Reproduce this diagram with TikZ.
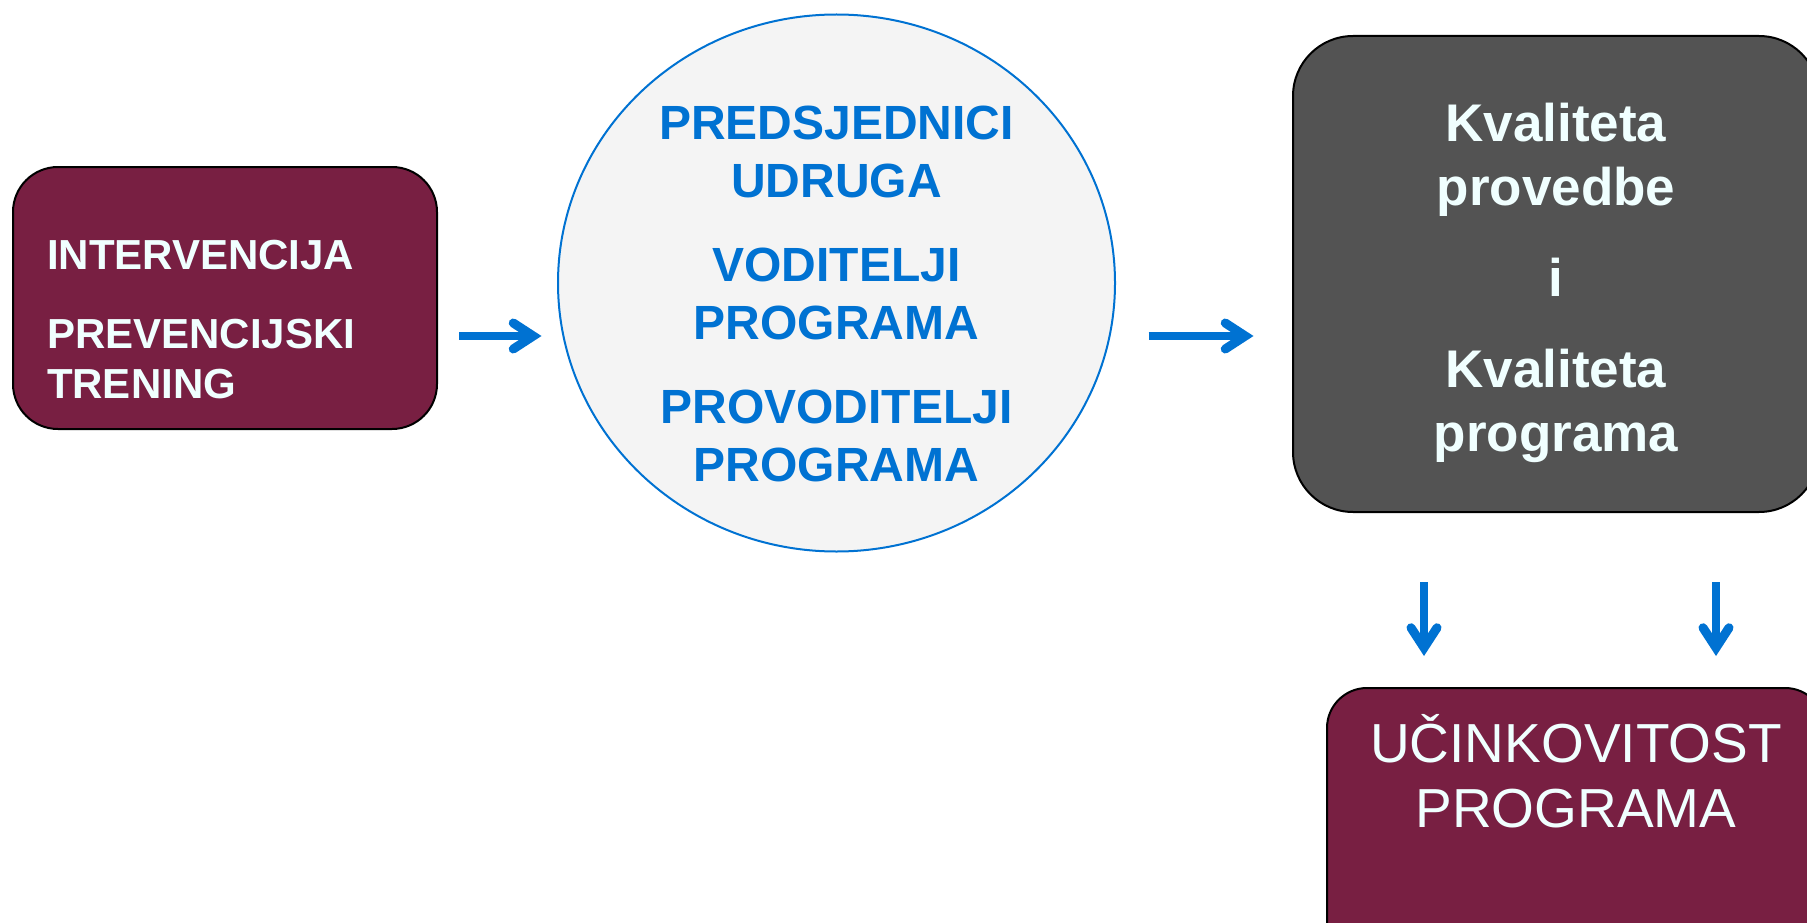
\documentclass[tikz,border=0pt]{standalone}
\usepackage{fontspec}
\setmainfont{Liberation Sans}
\usepackage{tikz}
\usetikzlibrary{positioning,shapes.geometric,arrows.meta}
\definecolor{wine}{RGB}{120,31,66}
\definecolor{slate}{RGB}{83,83,83}
\definecolor{flowblue}{RGB}{0,114,210}
\definecolor{paper}{RGB}{244,244,244}
\definecolor{snow}{RGB}{240,255,255}

\begin{document}
\begin{tikzpicture}[x=1pt, y=-1pt,
     boxnode/.style = {rectangle, draw=black, line width=2pt, text=snow, inner sep=0pt, outer sep=0pt},
     roundnode/.style = {ellipse, draw=flowblue, line width=2pt, fill=paper, text=flowblue, inner sep=0pt, outer sep=0pt,
                         minimum width=557pt, minimum height=537pt, text width=380pt, align=center},
     flow/.style = {draw=flowblue, line width=8pt,
                    -{Straight Barb[length=20pt,width=26pt,line width=9pt,line cap=round,line join=miter]}}]
     \useasboundingbox (0,0) rectangle (1807,923);

     \node[boxnode, fill=wine, rounded corners=45pt, text width=356pt, align=left, inner xsep=34pt,
           text height=102pt, text depth=160pt, font=\bfseries\fontsize{42}{50}\selectfont]
           (intv) at (225,298) {INTERVENCIJA\\[29pt]PREVENCIJSKI\\TRENING};
     \node[roundnode, text height=40pt, text depth=326pt, font=\bfseries\fontsize{48}{57.5}\selectfont]
           (circ) [right=121pt of intv, yshift=15pt]
           {PREDSJEDNICI\\UDRUGA\\[27pt]VODITELJI\\PROGRAMA\\[27pt]PROVODITELJI\\PROGRAMA};
     \node[boxnode, fill=slate, rounded corners=60pt, text width=526pt, align=center,
           text height=106pt, text depth=370pt, font=\bfseries\fontsize{53}{64}\selectfont]
           (qual) [right=178pt of circ, yshift=9pt]
           {Kvaliteta\\provedbe\\[27pt]i\\[27pt]Kvaliteta\\programa};
     \node[boxnode, fill=wine, rounded corners=40pt, text width=498pt, align=center,
           text height=74pt, text depth=198pt, font=\fontsize{55}{65}\selectfont]
           (eff) [below=176pt of qual, xshift=20pt] {UČINKOVITOST\\PROGRAMA};

     \draw[flow, shorten <=22pt, shorten >=16.5pt] ([yshift=-38pt]intv.east) -- ([yshift=-38pt]intv.east -| circ.west);
     \draw[flow, shorten <=33.5pt, shorten >=39.5pt] ([yshift=-53pt]circ.east) -- ([yshift=-53pt]circ.east -| qual.west);
     \draw[flow, shorten <=70pt, shorten >=32pt] ([xshift=-132pt]qual.south) -- ([xshift=-132pt]qual.south |- eff.north);
     \draw[flow, shorten <=70pt, shorten >=32pt] ([xshift=160pt]qual.south) -- ([xshift=160pt]qual.south |- eff.north);
\end{tikzpicture}
\end{document}
